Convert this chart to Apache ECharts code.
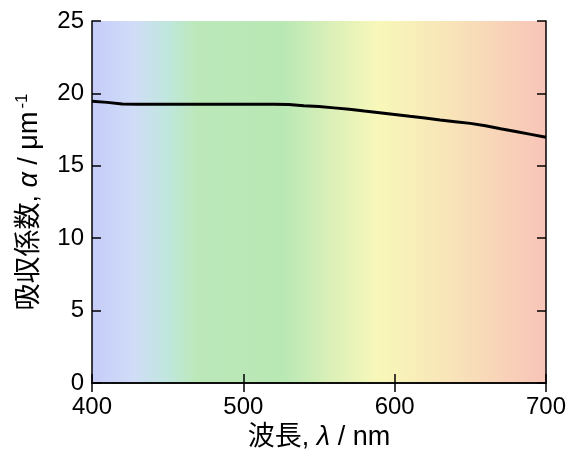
<!DOCTYPE html>
<html>
<head>
<meta charset="utf-8">
<script src="https://cdn.jsdelivr.net/npm/echarts@6/dist/echarts.min.js"></script>
<style>html,body{margin:0;padding:0;background:#fff}#c{width:571px;height:456px}</style>
</head>
<body>
<div id="c"></div>
<script>
const wavelengths = [400,410,420,430,440,450,460,470,480,490,500,510,520,530,540,550,560,570,580,590,600,610,620,630,640,650,660,670,680,690,700];
const alphaValues = [19.45,19.38,19.26,19.25,19.25,19.25,19.25,19.25,19.25,19.25,19.25,19.25,19.25,19.24,19.15,19.09,19.00,18.90,18.78,18.67,18.55,18.42,18.30,18.17,18.05,17.93,17.76,17.56,17.37,17.17,16.97];
const xTicks = [400,500,600,700];
const yTicks = [0,5,10,15,20,25];

const FONT = "'Liberation Sans', Arial, 'Noto Sans CJK JP', sans-serif";
const chart = echarts.init(document.getElementById('c'));
const axisLine = {show:true, lineStyle:{color:'#000', width:1.5}};
const tick = {show:true, inside:true, length:9, lineStyle:{color:'#000', width:1.5}};
chart.setOption({
  animation:false,
  grid:{left:92,right:25,top:21,bottom:73,show:true,borderWidth:0,
    backgroundColor:new echarts.graphic.LinearGradient(0,0,1,0,[
      {offset:0,color:'#c5ccf8'},
      {offset:0.09,color:'#d0dcf8'},
      {offset:0.17,color:'#bfe7dc'},
      {offset:0.23,color:'#bce8b9'},
      {offset:0.42,color:'#b8e8b4'},
      {offset:0.53,color:'#dcf0b8'},
      {offset:0.63,color:'#f8f8b9'},
      {offset:0.79,color:'#f8e4b8'},
      {offset:1,color:'#f8c4b8'}
    ])},
  xAxis:[{
    type:'value',min:400,max:700,interval:100,position:'bottom',
    axisLine:axisLine,axisTick:tick,splitLine:{show:false},
    axisLabel:{color:'#000',fontSize:24,fontFamily:FONT,margin:12,
      formatter:v=>xTicks.includes(v)?String(v):''},
    name:'波長, {i|λ} / nm',nameLocation:'middle',nameGap:39,
    nameTextStyle:{color:'#000',fontSize:27,fontFamily:FONT,
      rich:{i:{fontStyle:'italic',fontSize:27,fontFamily:FONT,color:'#000'}}}
  },{
    type:'value',min:400,max:700,interval:100,position:'top',
    axisLine:axisLine,axisTick:tick,axisLabel:{show:false},splitLine:{show:false}
  }],
  yAxis:[{
    type:'value',min:0,max:25,interval:5,position:'left',
    axisLine:axisLine,axisTick:tick,splitLine:{show:false},
    axisLabel:{color:'#000',fontSize:24,fontFamily:FONT,margin:8,
      formatter:v=>yTicks.includes(v)?String(v):''},
    name:'吸収係数, {i|α} / μm{sup|-1}',nameLocation:'middle',nameGap:43,
    nameTextStyle:{color:'#000',fontSize:27,fontFamily:FONT,lineHeight:32,
      rich:{i:{fontStyle:'italic',fontSize:27,fontFamily:FONT,color:'#000',lineHeight:32},
            sup:{fontSize:17,fontFamily:FONT,color:'#000',verticalAlign:'top',lineHeight:32,padding:[0,0,16,3]}}}
  },{
    type:'value',min:0,max:25,interval:5,position:'right',
    axisLine:axisLine,axisTick:tick,axisLabel:{show:false},splitLine:{show:false}
  }],
  series:[{
    type:'line',xAxisIndex:0,yAxisIndex:0,showSymbol:false,
    data:wavelengths.map((w,i)=>[w,alphaValues[i]]),
    lineStyle:{color:'#000',width:3},z:5
  }]
});
</script>
</body>
</html>
